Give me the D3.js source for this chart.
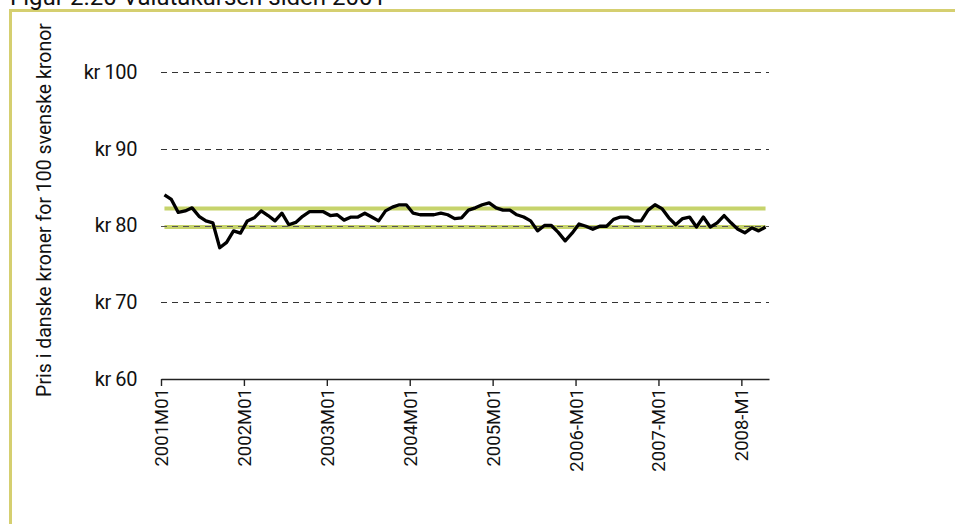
<!DOCTYPE html>
<html>
<head>
<meta charset="utf-8">
<script src="https://cdn.jsdelivr.net/npm/d3@7"></script>
<style>
  html, body { margin: 0; padding: 0; background: #fff; }
  svg { display: block; }
  text { font-family: Roboto, "Liberation Sans", Arial, sans-serif; fill: #111; }
</style>
</head>
<body>
<svg id="chart" width="955" height="524"></svg>
<script>
// ---- data (monthly, 2001M01 .. 2008M04) ----
const values = [
  84.0, 83.4, 81.7, 81.9, 82.3, 81.2, 80.6, 80.35, 77.1, 77.8, 79.3, 79.0,   // 2001
  80.6, 81.0, 81.9, 81.3, 80.6, 81.6, 80.1, 80.4, 81.2, 81.8, 81.8, 81.8,    // 2002
  81.3, 81.4, 80.7, 81.1, 81.1, 81.6, 81.1, 80.6, 81.9, 82.4, 82.7, 82.7,    // 2003
  81.6, 81.4, 81.4, 81.4, 81.6, 81.4, 80.9, 81.0, 82.0, 82.3, 82.7, 82.95,   // 2004
  82.3, 82.0, 82.0, 81.4, 81.1, 80.6, 79.3, 80.0, 80.0, 79.1, 78.0, 79.0,    // 2005
  80.2, 79.9, 79.5, 79.9, 79.9, 80.8, 81.1, 81.1, 80.6, 80.6, 82.0, 82.7,    // 2006
  82.2, 81.0, 80.1, 80.9, 81.1, 79.8, 81.1, 79.8, 80.35, 81.3, 80.35, 79.5,  // 2007
  79.05, 79.7, 79.3, 79.8                                                     // 2008
];
const upperBand = 82.2;
const lowerBand = 79.8;
const tickIndex = [0, 12, 24, 36, 48, 60, 72, 84];
const tickLabels = ["2001M01", "2002M01", "2003M01", "2004M01", "2005M01", "2006-M01", "2007-M01", "2008-M1"];
const yTicks = [60, 70, 80, 90, 100];
const yTitle = "Pris i danske kroner for 100 svenske kronor";
const chartTitle = "Figur 2.20 Valutakursen siden 2001";

// ---- layout ----
const svg = d3.select("#chart");
const plotLeft = 161, plotRight = 769, plotTop = 72, plotBottom = 379;
const FONT = "Roboto, 'Liberation Sans', Arial, sans-serif";

const x = d3.scaleLinear().domain([0, values.length]).range([plotLeft, plotRight]);
const y = d3.scaleLinear().domain([60, 100]).range([plotBottom, plotTop]);

// frame
svg.append("line").attr("x1", 9.5).attr("x2", 955).attr("y1", 10.5).attr("y2", 10.5)
  .attr("stroke", "#d5cf70").attr("stroke-width", 3);
svg.append("line").attr("x1", 10.5).attr("x2", 10.5).attr("y1", 9).attr("y2", 524)
  .attr("stroke", "#d5cf70").attr("stroke-width", 3);

// title (cut off at top, as in the reference)
svg.append("text").attr("x", 10).attr("y", 5).attr("font-size", 24).attr("fill", "#222")
  .text(chartTitle);

// gridlines
svg.append("g").selectAll("line").data(yTicks.filter(d => d !== 60)).join("line")
  .attr("x1", plotLeft).attr("x2", plotRight)
  .attr("y1", d => Math.round(y(d)) + 0.5).attr("y2", d => Math.round(y(d)) + 0.5)
  .attr("stroke", "#333").attr("stroke-width", 1).attr("stroke-dasharray", "6,5");

// y labels
const yAxis = d3.axisLeft(y).tickValues(yTicks).tickSize(0).tickPadding(0)
  .tickFormat(d => "kr " + d);
const gy = svg.append("g").attr("transform", `translate(137,0)`).call(yAxis);
gy.select(".domain").remove();
gy.selectAll("text").attr("font-size", 20).attr("font-family", FONT).attr("fill", "#111")
  .attr("letter-spacing", -0.4);

// y title
svg.append("text")
  .attr("transform", `translate(51,${(25 + 395) / 2}) rotate(-90)`)
  .attr("text-anchor", "middle").attr("font-size", 19.5).attr("fill", "#111")
  .text(yTitle);

// x axis
const xAxis = d3.axisBottom(x).tickValues(tickIndex).tickSize(7).tickSizeOuter(0)
  .tickFormat((d, i) => tickLabels[i]);
const gx = svg.append("g").attr("transform", `translate(0,${plotBottom})`).call(xAxis);
gx.select(".domain").attr("stroke", "#222").attr("stroke-width", 1.6);
gx.selectAll(".tick line").attr("stroke", "#222").attr("stroke-width", 1.4);
gx.selectAll("text")
  .attr("font-size", 18.5).attr("font-family", FONT).attr("fill", "#111")
  .attr("text-anchor", "end")
  .attr("transform", "rotate(-90)")
  .attr("x", -9).attr("y", 0).attr("dy", "0.35em");

// band lines
const line = d3.line().x((d, i) => x(i + 0.5)).y(d => y(d));
[upperBand, lowerBand].forEach(b => {
  svg.append("path").datum(values.map(() => b))
    .attr("d", line).attr("fill", "none")
    .attr("stroke", "#c6d36b").attr("stroke-width", 4);
});

// redraw 80 gridline over lower band
svg.append("line").attr("x1", plotLeft).attr("x2", plotRight)
  .attr("y1", Math.round(y(80)) + 0.5).attr("y2", Math.round(y(80)) + 0.5)
  .attr("stroke", "#555").attr("stroke-width", 1).attr("stroke-dasharray", "6,5");

// main series
svg.append("path").datum(values)
  .attr("d", line).attr("fill", "none")
  .attr("stroke", "#000").attr("stroke-width", 3.3)
  .attr("stroke-linejoin", "round");
</script>
</body>
</html>
